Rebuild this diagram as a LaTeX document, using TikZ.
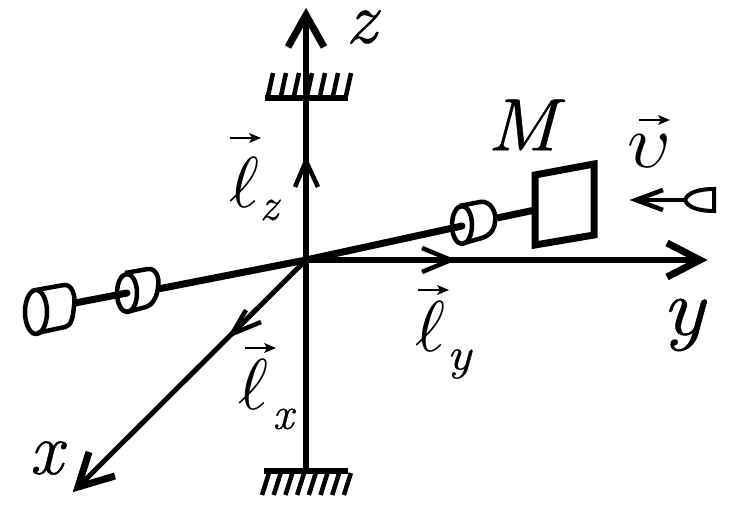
\documentclass[tikz,border=0pt]{standalone}
\usepackage{graphicx}
\usepackage{fontspec}
\setmainfont{Latin Modern Roman}[ItalicFeatures={FakeBold=0.6}]
\tikzset{
  px/.style={x=1pt,y=-1pt},
  axisline/.style={line width=6pt,black},
  headline/.style={line width=7pt,miter limit=10,line join=miter},
  smallhead/.style={line width=4.5pt,miter limit=10,line join=miter},
  rod/.style={line width=7pt},
  cyl/.style={line width=4.5pt,line join=round},
  veca/.style={line width=1.6pt},
  base/.style={line width=6pt},
  hatch/.style={line width=4.5pt},
  big/.style={inner sep=0pt,font=\fontsize{74}{74}\selectfont\itshape},
  sub/.style={inner sep=0pt,font=\fontsize{46}{46}\selectfont\itshape},
  mathlabel/.style={inner sep=0pt},
}
\newcommand{\bigell}{\scalebox{7.2}{$\ell$}}
\newcommand{\bigups}{\scalebox{7.6}{$\upsilon$}}
\begin{document}
\begin{tikzpicture}[px]
\useasboundingbox (0,0) rectangle (737,521);
\coordinate (O) at (306,260);
\coordinate (Ztip) at (306,15);
\coordinate (Ybot) at (306,471);
\coordinate (Ytip) at (700,260);
\coordinate (Xtip) at (78,487);
% axes
\draw[axisline] (Ybot) -- (Ztip);
\draw[axisline] (O) -- (Ytip);
\draw[line width=5pt] (O) -- (Xtip);
% heads
\draw[headline] (288,47) -- (Ztip) -- (324,47);
\draw[headline] (667,243) -- (Ytip) -- (667,277);
\draw[headline] (89,452) -- (Xtip) -- (115,476);
% inner arrows
\draw[smallhead] (295,187) -- (306,161) -- (318,187);
\draw[smallhead] (422,248) -- (451,260) -- (422,272);
\draw[smallhead] (246,310) -- (232,334) -- (261,322);
% brackets
\draw[base] (265,98) -- (348,98);
\foreach \i in {0,...,6} \draw[hatch] ({273+13*\i},73) -- ({268+13*\i},96);
\draw[base] (264,471) -- (348,471);
\foreach \i in {0,...,7} \draw[hatch] ({269+11.7*\i},473) -- ({262+11.7*\i},495);
% rod
\coordinate (Rone) at (462,226);
\coordinate (Rtwo) at (127,293);
\draw[rod] (O) -- (158,289);
% right cylinder
\draw[cyl,fill=white] (459,206) -- (480,202) .. controls (490,200) and (497,212) .. (495,222) .. controls (494,232) and (488,236) .. (482,238) -- (464,243);
\draw[cyl] (462,225) ellipse [x radius=10, y radius=19];
\draw[rod,line cap=round] (O) -- (Rone);
\draw[rod] (497,218) -- (535,210);
% left inner cylinder
\draw[cyl,fill=white] (125,273) -- (148,269) .. controls (156,268) and (160,278) .. (158,287) .. controls (157,298) and (152,305) .. (146,307) -- (127,312);
\draw[cyl] (127,293) ellipse [x radius=10, y radius=19];
\draw[rod,line cap=round] (Rtwo) -- (75,303);
% left outer cylinder
\draw[cyl,fill=white] (36,290) -- (64,285) .. controls (72,284) and (76,296) .. (74,306) .. controls (73,318) and (71,326) .. (65,327) -- (37,333);
\draw[cyl] (36,312) ellipse [x radius=11, y radius=22];
% mass
\draw[line width=7pt,line join=miter] (535,175) -- (594,164) -- (594,235) -- (535,245) -- cycle;
% velocity
\coordinate (Vt) at (636,200);
\coordinate (Vb) at (685,200);
\draw[smallhead] (663,190) -- (Vt) -- (663,210);
\draw[line width=4pt] (Vt) -- (Vb);
\draw[line width=4pt] (Vb) .. controls (688,192) and (700,189) .. (714,189) -- (714,211) .. controls (700,211) and (688,208) .. (Vb) -- cycle;
% labels
\node[big,xscale=1.05] (zl) at (361,27) {z};
\node[big,xscale=1.2,yscale=1.1] (yl) at (683,325) {y};
\node[big] (xl) at (46,458) {x};
\node[big,xscale=1.08] (ml) at (522,125) {M};
\node[mathlabel] (vl) at (649,151) {\bigups};
\node[mathlabel] (lz) at (244,183) {\bigell};
\node[mathlabel] (ly) at (430,327) {\bigell};
\node[mathlabel] (lx) at (253,385) {\bigell};
\node[sub] (sz) at (269,210) {z};
\node[sub,xscale=1.1] (sy) at (459,364) {y};
\node[sub] (sx) at (283,419) {x};
% vector marks
\foreach \xa/\ya in {230/138,418/290,245/348,639/120}{
  \draw[veca] (\xa,\ya) -- ({\xa+24},\ya);
  \fill ({\xa+31},\ya) -- ({\xa+19},{\ya-5}) -- ({\xa+22},\ya) -- ({\xa+19},{\ya+5}) -- cycle;
}
\end{tikzpicture}
\end{document}
